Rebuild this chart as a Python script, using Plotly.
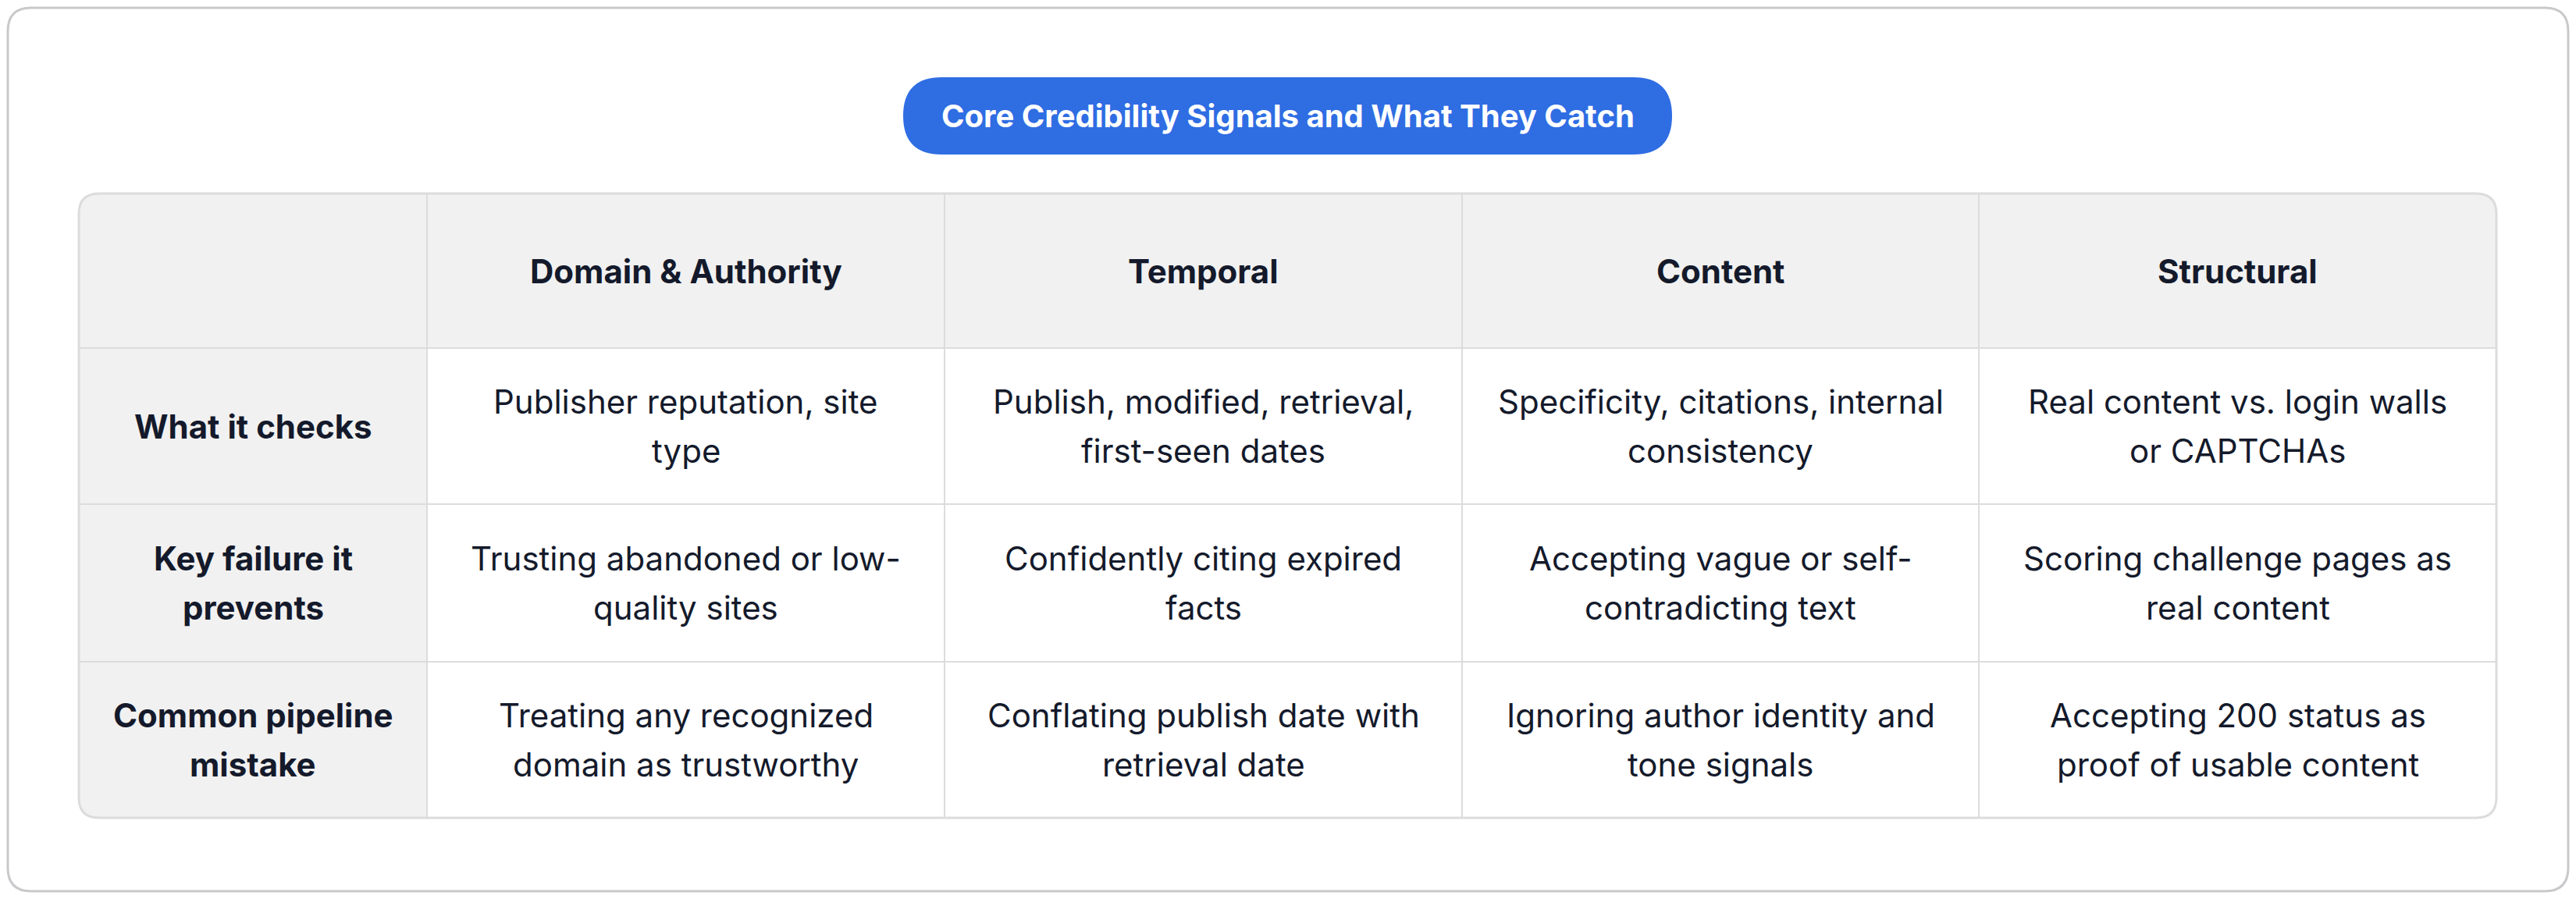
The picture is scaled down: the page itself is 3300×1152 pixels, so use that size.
import plotly.graph_objects as go

title = "Core Credibility Signals and What They Catch"
columns = ["Domain & Authority", "Temporal", "Content", "Structural"]
row_labels = ["What it checks", "Key failure it<br>prevents", "Common pipeline<br>mistake"]
cells = [
    ["Publisher reputation, site<br>type", "Publish, modified, retrieval,<br>first-seen dates",
     "Specificity, citations, internal<br>consistency", "Real content vs. login walls<br>or CAPTCHAs"],
    ["Trusting abandoned or low-<br>quality sites", "Confidently citing expired<br>facts",
     "Accepting vague or self-<br>contradicting text", "Scoring challenge pages as<br>real content"],
    ["Treating any recognized<br>domain as trustworthy", "Conflating publish date with<br>retrieval date",
     "Ignoring author identity and<br>tone signals", "Accepting 200 status as<br>proof of usable content"],
]

W, H = 3300, 1152
OFF = 8
X = [101, 547, 1210, 1873, 2535, 3198]
Y = [248, 446, 646, 848, 1048]
R = 26
GRID = "#dcdcdc"
GRAY = "#f1f1f1"
FONT = "Inter"
INK = "#141a2b"
LS = 63
FS = 42

def rrect(x0, y0, x1, y1, tl=0, tr=0, br=0, bl=0):
    p = f"M {x0+tl},{y0} L {x1-tr},{y0} "
    p += f"Q {x1},{y0} {x1},{y0+tr} " if tr else ""
    p += f"L {x1},{y1-br} "
    p += f"Q {x1},{y1} {x1-br},{y1} " if br else ""
    p += f"L {x0+bl},{y1} "
    p += f"Q {x0},{y1} {x0},{y1-bl} " if bl else ""
    p += f"L {x0},{y0+tl} "
    p += f"Q {x0},{y0} {x0+tl},{y0} " if tl else ""
    return p + "Z"

shapes = []
shapes.append(dict(type="path", path=rrect(10, 10, W-10, H-10, 30, 30, 30, 30),
                   line=dict(color="#c9c9cc", width=3), fillcolor="white", layer="below"))
shapes.append(dict(type="path", path=rrect(X[0], Y[0], X[-1], Y[-1], R, R, R, R),
                   line=dict(width=0), fillcolor="white", layer="below"))
shapes.append(dict(type="path", path=rrect(X[0], Y[0], X[-1], Y[1], tl=R, tr=R),
                   line=dict(width=0), fillcolor=GRAY, layer="below"))
shapes.append(dict(type="path", path=rrect(X[0], Y[1], X[1], Y[-1], bl=R),
                   line=dict(width=0), fillcolor=GRAY, layer="below"))
for x in X[1:-1]:
    shapes.append(dict(type="line", x0=x, x1=x, y0=Y[0], y1=Y[-1], line=dict(color=GRID, width=2)))
for y in Y[1:-1]:
    shapes.append(dict(type="line", x0=X[0], x1=X[-1], y0=y, y1=y, line=dict(color=GRID, width=2)))
shapes.append(dict(type="path", path=rrect(X[0], Y[0], X[-1], Y[-1], R, R, R, R),
                   line=dict(color=GRID, width=3), fillcolor="rgba(0,0,0,0)"))
px0, px1, py0, py1 = 1157, 2142, 99, 198
rp = (py1 - py0) / 2
shapes.append(dict(type="path", path=rrect(px0, py0, px1, py1, rp, rp, rp, rp),
                   line=dict(width=0), fillcolor="#2f6de3"))

ann = [dict(x=(px0+px1)/2, y=(py0+py1)/2, text=f"<b>{title}</b>", showarrow=False,
            font=dict(family=FONT, size=40, color="white"))]

def add_text(xc, yc, text, bold=False):
    lines = text.split("<br>")
    n = len(lines)
    for k, ln in enumerate(lines):
        y = yc + (k - (n - 1) / 2) * LS
        t = f"<b>{ln}</b>" if bold else ln
        ann.append(dict(x=xc, y=y, text=t, showarrow=False,
                        font=dict(family=FONT, size=FS, color=INK)))

for j, c in enumerate(columns):
    add_text((X[j+1]+X[j+2])/2, (Y[0]+Y[1])/2, c, bold=True)
for i, rl in enumerate(row_labels):
    yc = (Y[i+1]+Y[i+2])/2
    add_text((X[0]+X[1])/2, yc, rl, bold=True)
    for j, t in enumerate(cells[i]):
        add_text((X[j+1]+X[j+2])/2, yc, t)

fig = go.Figure()
fig.update_layout(width=W-2*OFF, height=H-2*OFF, margin=dict(l=0, r=0, t=0, b=0),
                  paper_bgcolor="white", plot_bgcolor="white",
                  xaxis=dict(range=[OFF, W-OFF], visible=False, fixedrange=True),
                  yaxis=dict(range=[H-OFF, OFF], visible=False, fixedrange=True),
                  shapes=shapes, annotations=ann, showlegend=False)
fig.write_html("out.html")
